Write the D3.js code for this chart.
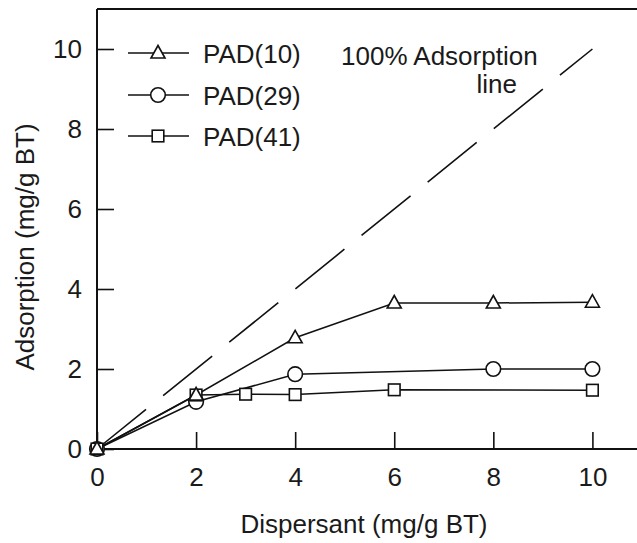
<!DOCTYPE html>
<html><head><meta charset="utf-8">
<script src="https://cdn.jsdelivr.net/npm/d3@7"></script>
<style>body{margin:0;background:#fff}svg{display:block}text{font-family:"Liberation Sans",Arial,sans-serif;fill:#1a1a1a}</style>
</head><body><svg id="c" width="637" height="543"></svg>
<script>
const xTicks = [0, 2, 4, 6, 8, 10];
const yTicks = [0, 2, 4, 6, 8, 10];
const pad10X = [0, 2, 4, 6, 8, 10];
const pad10Y = [0, 1.35, 2.78, 3.65, 3.65, 3.67];
const pad29X = [0, 2, 4, 8, 10];
const pad29Y = [0, 1.18, 1.87, 2.0, 2.0];
const pad41X = [0, 2, 3, 4, 6, 10];
const pad41Y = [0, 1.35, 1.37, 1.36, 1.48, 1.47];
const refX = [0, 10];
const refY = [0, 10];
const seriesNames = ["PAD(10)", "PAD(29)", "PAD(41)"];
const seriesMarkers = ["triangle", "circle", "square"];

const svg = d3.select("#c");
const x = d3.scaleLinear().domain([0, 10.9]).range([97, 637]);
const y = d3.scaleLinear().domain([0, 11]).range([449, 9]);
const FS = 26;

// frame: top line and axes
svg.append("line").attr("x1", x(0)).attr("x2", 637).attr("y1", y(11)).attr("y2", y(11)).attr("stroke", "#111").attr("stroke-width", 2);

const xAxis = svg.append("g").attr("transform", `translate(0,${y(0)})`)
  .call(d3.axisBottom(x).tickValues(xTicks).tickSizeInner(-17).tickSizeOuter(0).tickPadding(19).tickFormat(d3.format("d")));
const yAxis = svg.append("g").attr("transform", `translate(${x(0)},0)`)
  .call(d3.axisLeft(y).tickValues(yTicks).tickSizeInner(-17).tickSizeOuter(0).tickPadding(15).tickFormat(d3.format("d")));
[xAxis, yAxis].forEach(g => {
  g.select(".domain").attr("stroke", "#111").attr("stroke-width", 2);
  g.selectAll(".tick line").attr("stroke", "#111").attr("stroke-width", 1.6);
  g.selectAll(".tick text").attr("font-size", FS).attr("fill", "#1a1a1a").style("font-family", "Liberation Sans, Arial, sans-serif");
});
xAxis.select(".domain").attr("d", `M${x(0)},0H637`);
yAxis.select(".domain").attr("d", `M0,${y(0)}V${y(11)}`);

// axis titles
svg.append("text").attr("x", 364).attr("y", 533).attr("text-anchor", "middle").attr("font-size", FS).text("Dispersant (mg/g BT)");
svg.append("text").attr("transform", `translate(34,${y(5) - 2}) rotate(-90)`).attr("text-anchor", "middle").attr("font-size", FS).text("Adsorption (mg/g BT)");

// 100% line
const line = d3.line().x(d => x(d[0])).y(d => y(d[1]));
svg.append("path").datum(d3.zip(refX, refY)).attr("d", line).attr("fill", "none").attr("stroke", "#111").attr("stroke-width", 1.6).attr("stroke-dasharray", "63 22");
svg.append("text").attr("x", 341).attr("y", 65).attr("font-size", FS).text("100% Adsorption");
svg.append("text").attr("x", 517).attr("y", 93).attr("text-anchor", "end").attr("font-size", FS).text("line");

const series = [d3.zip(pad10X, pad10Y), d3.zip(pad29X, pad29Y), d3.zip(pad41X, pad41Y)];

function marker(g, type, cx, cy) {
  if (type === "triangle") {
    g.append("path").attr("d", `M${cx},${cy - 7.5}L${cx + 7},${cy + 5}L${cx - 7},${cy + 5}Z`)
      .attr("fill", "#fff").attr("stroke", "#111").attr("stroke-width", 1.6);
  } else if (type === "circle") {
    g.append("circle").attr("cx", cx).attr("cy", cy).attr("r", 7.3)
      .attr("fill", "#fff").attr("stroke", "#111").attr("stroke-width", 1.6);
  } else {
    g.append("rect").attr("x", cx - 5.8).attr("y", cy - 5.8).attr("width", 11.6).attr("height", 11.6)
      .attr("fill", "#fff").attr("stroke", "#111").attr("stroke-width", 1.6);
  }
}

// lines first
series.forEach(s => {
  svg.append("path").datum(s).attr("d", line).attr("fill", "none").attr("stroke", "#111").attr("stroke-width", 1.5);
});
// markers
[1, 2, 0].forEach(i => {
  const g = svg.append("g");
  series[i].forEach(d => marker(g, seriesMarkers[i], x(d[0]), y(d[1])));
});

// legend
const legY = [53, 95, 136];
seriesNames.forEach((name, i) => {
  const g = svg.append("g");
  g.append("line").attr("x1", 128).attr("x2", 189).attr("y1", legY[i]).attr("y2", legY[i]).attr("stroke", "#111").attr("stroke-width", 1.5);
  marker(g, seriesMarkers[i], 158, legY[i]);
  g.append("text").attr("x", 203).attr("y", legY[i] + 10).attr("font-size", FS).text(name);
});
</script></body></html>
